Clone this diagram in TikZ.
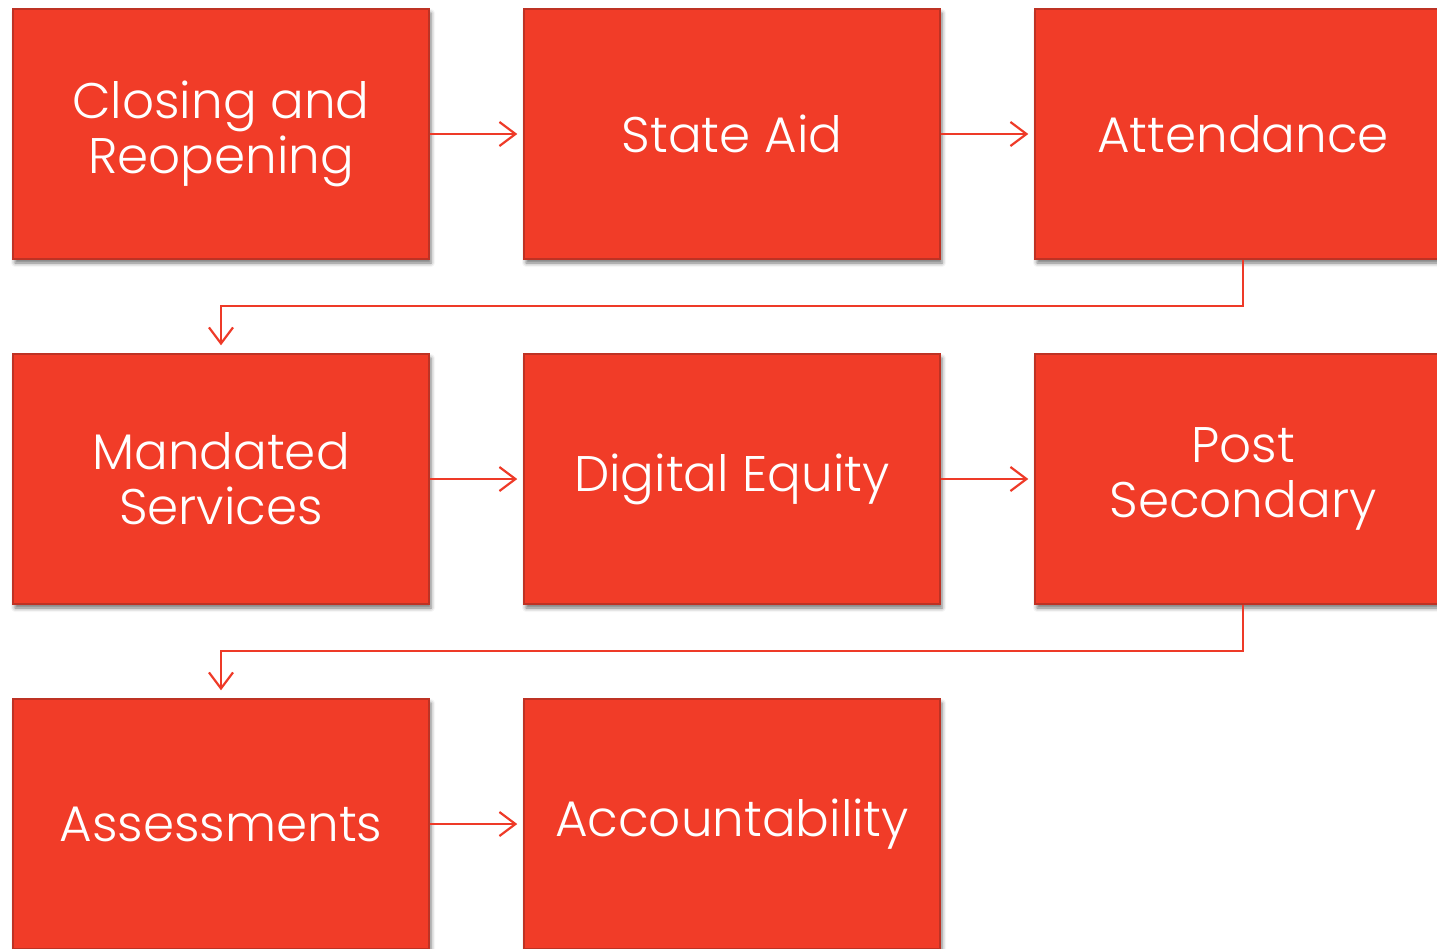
\documentclass[tikz,border=0pt]{standalone}
\usepackage{fontspec}
\setmainfont{Poppins}[UprightFont={* Light}]
\usetikzlibrary{arrows.meta,shadows.blur,positioning}
\definecolor{boxred}{RGB}{241,60,40}
\definecolor{boxedge}{RGB}{190,50,36}
\definecolor{linered}{RGB}{238,58,40}
\tikzset{
  stepbox/.style={draw=boxedge, line width=1.5pt, fill=boxred, minimum width=416pt, minimum height=250pt,
    inner sep=0pt, text=white, font=\fontsize{50}{55}\selectfont, align=center,
    blur shadow={shadow xshift=2pt, shadow yshift=-4pt, shadow blur radius=4pt, shadow opacity=55}},
  flow/.style={draw=linered, line width=2pt, -{Straight Barb[length=16pt,width=24pt,line width=2.2pt]}}
}
\begin{document}
\begin{tikzpicture}[x=1pt,y=-1pt]
\useasboundingbox (0,0) rectangle (1437,948);
\begin{scope}
\clip (0,0) rectangle (1437,948);
\node[stepbox] (a) at (221,134) {Closing and\\Reopening};
\node[stepbox] (b) at (732,134) {State Aid};
\node[stepbox] (c) at (1243,134) {Attendance};
\node[stepbox] (d) at (221,479) {Mandated\\Services};
\node[stepbox] (e) at (732,479) {Digital Equity};
\node[stepbox] (f) at (1243,479) {Post\\Secondary};
\node[stepbox] (g) at (221,824) {Assessments};
\node[stepbox] (h) at (732,824) {Accountability};
\end{scope}
\draw[flow] (a.east) -- ([xshift=-6pt]b.west);
\draw[flow] (b.east) -- ([xshift=-6pt]c.west);
\draw[flow] (c.south) -- ++(0,46) -| ([yshift=8pt]d.north);
\draw[flow] (d.east) -- ([xshift=-6pt]e.west);
\draw[flow] (e.east) -- ([xshift=-6pt]f.west);
\draw[flow] (f.south) -- ++(0,46) -| ([yshift=8pt]g.north);
\draw[flow] (g.east) -- ([xshift=-6pt]h.west);
\end{tikzpicture}
\end{document}
